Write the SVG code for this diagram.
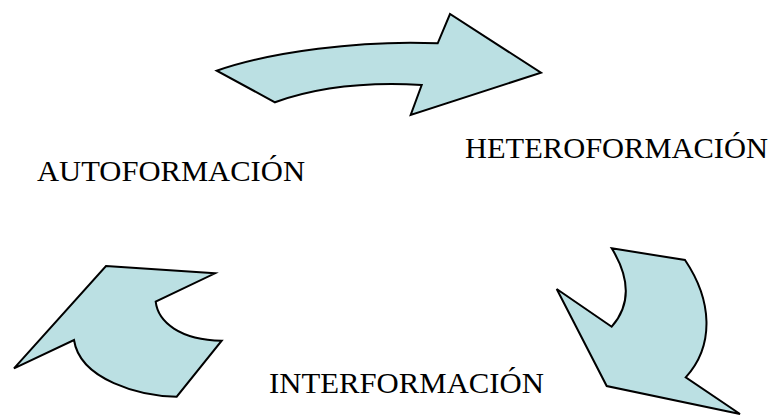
<svg xmlns="http://www.w3.org/2000/svg" width="773" height="415" viewBox="0 0 773 415">
<style>
.arrow{fill:#BBE0E3;stroke:#000;stroke-width:2;stroke-linejoin:miter}
.lbl{font-family:"Liberation Serif","Times New Roman",serif;font-size:29.5px;fill:#000}
</style>
<rect width="773" height="415" fill="#fff"/>
<g id="connectors">
<path id="arrow-top" class="arrow" d="M216.7,70.7 C270,52 360,40 437.7,43.3 L450,14 L541,72.7 L410.7,115 L421.7,85 C370,82 320,86 275,102.3 Z"/>
<path id="arrow-right" class="arrow" d="M611.7,248.3 L685,260 C712,300 715,345 685.7,377.3 L740,414 L606.7,386 L556.7,289 L611.7,326.7 C635,300 625,270 611.7,248.3 Z"/>
<path id="arrow-left" class="arrow" d="M106,266 L215,273.3 L155.7,301.7 C158,322 180,340 221.7,340.7 L176.7,396.7 C140,396 80,380 74,340 L14,368.3 Z"/>
</g>
<g id="node-autoformacion"><text class="lbl" x="37" y="181" textLength="268" lengthAdjust="spacingAndGlyphs">AUTOFORMACIÓN</text></g>
<g id="node-heteroformacion"><text class="lbl" x="465" y="158" textLength="303" lengthAdjust="spacingAndGlyphs">HETEROFORMACIÓN</text></g>
<g id="node-interformacion"><text class="lbl" x="269" y="393" textLength="275" lengthAdjust="spacingAndGlyphs">INTERFORMACIÓN</text></g>
</svg>
